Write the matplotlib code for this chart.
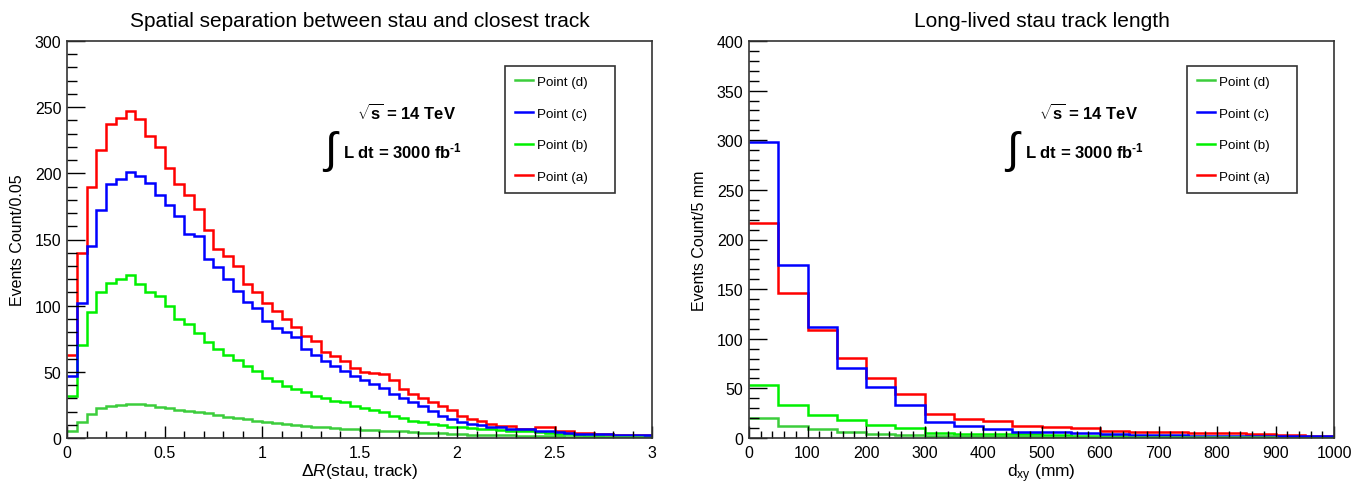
import numpy as np
import matplotlib
matplotlib.use("Agg")
import matplotlib.pyplot as plt
from matplotlib.lines import Line2D
from matplotlib.ticker import MultipleLocator, FuncFormatter

plt.rcParams['font.family'] = ['Liberation Sans', 'DejaVu Sans']
plt.rcParams['mathtext.fontset'] = 'custom'
plt.rcParams['mathtext.rm'] = 'Liberation Sans'
plt.rcParams['mathtext.it'] = 'Liberation Sans:italic'
plt.rcParams['mathtext.bf'] = 'Liberation Sans:bold'

# ---------------- data ----------------
series_labels = ["Point (d)", "Point (c)", "Point (b)", "Point (a)"]
series_colors = ["#3ccd3c", "#0000ff", "#00f000", "#ff0000"]

dr_edges = np.linspace(0, 3, 61)
dr_a = [63, 140, 190, 218, 237, 242, 247, 241, 228, 220, 204, 192, 184, 173, 157, 143, 137.5, 130, 116, 110,
        102, 96, 90, 84, 77, 73, 65, 62, 58, 53, 50, 49, 48, 44, 37, 33, 30, 27, 24, 21,
        17, 14, 13, 10.5, 9, 9, 7, 7, 8, 8, 5, 5, 4, 4, 3, 3, 2.5, 2.5, 2, 2]
dr_c = [47, 102, 145, 172, 192, 196, 201, 198, 193, 184, 176, 168, 154, 153, 135, 129, 120, 111, 103, 98,
        88.5, 83.5, 80, 76, 67.5, 63, 58, 54.5, 51, 47, 44, 41, 38, 33, 30, 27, 24, 20.5, 17, 14,
        12, 10.5, 9.5, 8, 8, 7, 6.5, 6.5, 5.5, 5, 4.5, 4, 3, 3, 3, 3, 2.5, 2.5, 2.5, 2.5]
dr_b = [32, 70, 95.5, 110.5, 117.5, 120.5, 123.5, 116.5, 110, 107, 100, 90, 86.5, 79, 72.5, 67, 63, 59, 54.5, 50.5,
        45.5, 43, 39.5, 37, 34.5, 32, 30, 28, 27, 24.5, 23, 21.5, 19.5, 17, 15, 13, 12, 10.5, 9.5, 8.5,
        8, 7.5, 7, 6.5, 6, 5.5, 5.5, 5, 4.5, 4, 3, 3, 2, 1.5, 1.5, 1, 1, 0.8, 0.5, 0.5]
dr_d = [5.5, 12.3, 18, 22.4, 24.4, 25.1, 25.6, 25.6, 25, 23.5, 22.5, 21.5, 20.3, 19.8, 18.6, 17.5, 16, 15, 14.3, 13,
        12, 11, 10.5, 9.5, 9, 8.5, 8, 7.5, 7, 6.5, 6, 6, 5.5, 5, 5, 4.5, 4, 4, 3.5, 3,
        2.8, 2.6, 2.4, 2.2, 2, 2, 1.8, 1.6, 1.5, 1.4, 1.2, 1, 1, 0.8, 0.7, 0.6, 0.5, 0.5, 0.4, 0.3]

dxy_edges = np.linspace(0, 1000, 21)
dxy_a = [216.5, 146, 109, 81, 60, 44, 24, 19, 17.5, 12.5, 10.7, 9.7, 7.4, 6.4, 5.7, 4.7, 4.7, 4, 3, 2.3]
dxy_c = [298.5, 174.5, 111.5, 71, 51, 33.5, 16.5, 11.7, 9, 6.4, 5.7, 4.7, 4, 3.4, 3, 2.3, 1.7, 1.7, 1.7, 1.7]
dxy_b = [53.7, 33.6, 23.5, 18, 13.4, 10, 5, 4.5, 4, 4, 3, 2.5, 2, 2, 1.8, 1.5, 1.3, 1.2, 1, 1]
dxy_d = [20, 12.4, 9, 5.7, 4, 3, 2.3, 2, 2, 1.8, 1.5, 1.3, 1.1, 1, 0.9, 0.8, 0.7, 0.6, 0.5, 0.5]

# ---------------- figure ----------------
fig = plt.figure(figsize=(13.62, 4.85), dpi=100)
W, H = 1362, 485


def make_ax(x0, x1, y0, y1):
    return fig.add_axes([x0 / W, 1 - y1 / H, (x1 - x0) / W, (y1 - y0) / H])


axL = make_ax(67, 652, 42, 439)
axR = make_ax(749, 1334, 42, 439)

panels = [
    (axL, dr_edges, [dr_d, dr_c, dr_b, dr_a], (0, 3), (0, 300), 0.5, 0.1, 50, 10,
     "Spatial separation between stau and closest track",
     r"$\mathit{\Delta R}$(stau, track)", "Events Count/0.05"),
    (axR, dxy_edges, [dxy_d, dxy_c, dxy_b, dxy_a], (0, 1000), (0, 400), 100, 20, 50, 10,
     "Long-lived stau track length",
     r"d$_{\mathrm{xy}}$ (mm)", "Events Count/5 mm"),
]

fmt = FuncFormatter(lambda v, p: "%g" % v)

for (ax, edges, vals, xlim, ylim, xmaj, xmin, ymaj, ymin, title, xlabel, ylabel) in panels:
    # draw in order a, b, c, d
    for v, c in reversed(list(zip(vals, series_colors))):
        ax.stairs(v, edges, color=c, linewidth=1.8, baseline=None)
    ax.set_xlim(*xlim)
    ax.set_ylim(*ylim)
    ax.xaxis.set_major_locator(MultipleLocator(xmaj))
    ax.xaxis.set_minor_locator(MultipleLocator(xmin))
    ax.yaxis.set_major_locator(MultipleLocator(ymaj))
    ax.yaxis.set_minor_locator(MultipleLocator(ymin))
    ax.xaxis.set_major_formatter(fmt)
    ax.yaxis.set_major_formatter(fmt)
    ax.tick_params(axis='x', which='major', direction='in', length=9, width=1.0, labelsize=11.5, pad=5)
    ax.tick_params(axis='x', which='minor', direction='in', length=5, width=1.0)
    ax.tick_params(axis='y', which='major', direction='in', length=13, width=1.0, labelsize=11.5, pad=4)
    ax.tick_params(axis='y', which='minor', direction='in', length=7, width=1.0)
    for s in ax.spines.values():
        s.set_linewidth(1.2)
        s.set_color('#333333')
    ax.set_title(title, fontsize=15, pad=11)
    ax.set_xlabel(xlabel, fontsize=12.5)
    ax.set_ylabel(ylabel, fontsize=11.5)
    ax.xaxis.set_label_coords(0.5, -0.058)
    ax.yaxis.set_label_coords(-0.072, 0.5)

    handles = [Line2D([], [], color=c, linewidth=1.8) for c in series_colors]
    leg = ax.legend(handles, series_labels, loc='upper left',
                    bbox_to_anchor=(0.749, 0.937, 0.188, 0.0), mode='expand',
                    borderaxespad=0, fontsize=9.6, frameon=True, fancybox=False,
                    edgecolor='#333333', framealpha=1, handlelength=1.35,
                    handletextpad=0.35, labelspacing=1.45, borderpad=0.72)
    leg.get_frame().set_linewidth(1.2)

    # annotations
    ax.text(0.58, 0.821, r"$\mathbf{\sqrt{s}}$ = 14 TeV", transform=ax.transAxes,
            ha='center', va='center', fontsize=12, fontweight='bold')
    ax.text(0.452, 0.722, r"$\int$", transform=ax.transAxes,
            ha='center', va='center', fontsize=32)
    ax.text(0.471, 0.725, "L dt = 3000 fb$^{\\mathbf{\u2010}\\mathbf{1}}$", transform=ax.transAxes,
            ha='left', va='center', fontsize=12, fontweight='bold')

fig.savefig("out.png", dpi=100)
